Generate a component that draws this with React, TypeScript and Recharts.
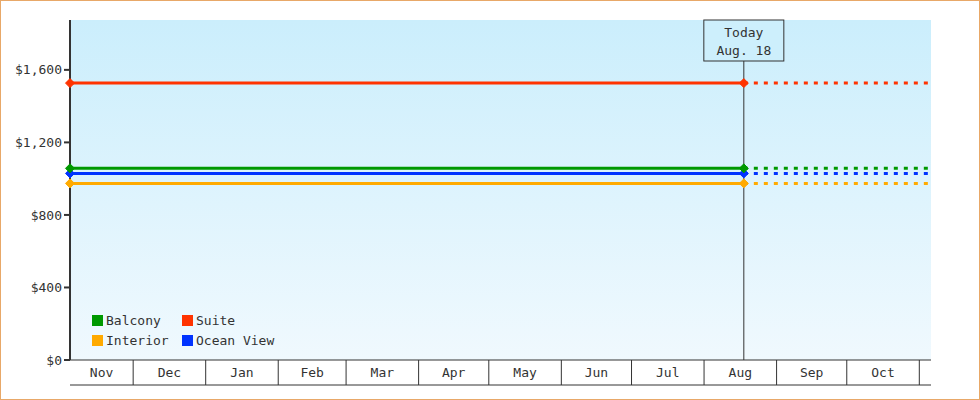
import React from 'react';
import { LineChart, Line, XAxis, YAxis, CartesianGrid, ReferenceLine, Legend } from 'recharts';

// month labels shown under the plot, in order
const monthLabels = ['Nov', 'Dec', 'Jan', 'Feb', 'Mar', 'Apr', 'May', 'Jun', 'Jul', 'Aug', 'Sep', 'Oct'];
// first day of each month shown (plus the month after the last one)
const monthStarts = [
  '2023-11-01', '2023-12-01', '2024-01-01', '2024-02-01', '2024-03-01', '2024-04-01',
  '2024-05-01', '2024-06-01', '2024-07-01', '2024-08-01', '2024-09-01', '2024-10-01', '2024-11-01',
];
const rangeStart = '2023-11-04';
const rangeEnd = '2024-11-06';
const todayDate = '2024-08-18';

// price points: range start, today, range end (projection)
const pointDates = [rangeStart, todayDate, rangeEnd];
const balcony = [1057, 1057, 1057];
const suite = [1527, 1527, 1527];
const interior = [974, 974, 974];
const oceanView = [1029, 1029, 1029];

const yTicks = [0, 400, 800, 1200, 1600];
const yMax = 1875;

const series = [
  { key: 'interior', name: 'Interior', color: '#ffaa00', values: interior },
  { key: 'oceanView', name: 'Ocean View', color: '#0033ff', values: oceanView },
  { key: 'balcony', name: 'Balcony', color: '#009900', values: balcony },
  { key: 'suite', name: 'Suite', color: '#ff3300', values: suite },
];
const legendOrder = ['balcony', 'suite', 'interior', 'oceanView'];

const FONT = '"DejaVu Sans Mono", monospace';
const INK = '#333';

const toDay = (s: string) => {
  const [y, m, d] = s.split('-').map(Number);
  return Date.UTC(y, m - 1, d) / 86400000;
};

const startDay = toDay(rangeStart);
const endDay = toDay(rangeEnd);
const todayDay = toDay(todayDate);
const todayIndex = pointDates.indexOf(todayDate);

const boundaryTicks = monthStarts.slice(1).map(toDay);
const labelTicks = monthLabels.map((_, i) => {
  const a = Math.max(toDay(monthStarts[i]), startDay);
  const b = Math.min(toDay(monthStarts[i + 1]), endDay);
  return (a + b) / 2;
});
const labelByTick = new Map(labelTicks.map((t, i) => [t, monthLabels[i]]));
const xTicks = [...boundaryTicks, ...labelTicks].sort((a, b) => a - b);

const rows = pointDates.map((d, i) => {
  const row: Record<string, number | null> = { day: toDay(d) };
  series.forEach((s) => {
    row[s.key] = i <= todayIndex ? s.values[i] : null;
    row[s.key + 'Ahead'] = i >= todayIndex ? s.values[i] : null;
  });
  return row;
});

const MonthTick = (props: any) => {
  const { x, y, payload } = props;
  const label = labelByTick.get(payload.value);
  if (label) {
    return (
      <text x={x} y={y + 17} textAnchor="middle" fill={INK} fontSize={13} fontFamily={FONT}>
        {label}
      </text>
    );
  }
  return <line x1={x} x2={x} y1={y} y2={y + 25} stroke={INK} strokeWidth={1} />;
};

const Diamond = (props: any) => {
  const { cx, cy, stroke, index } = props;
  if (cx == null || cy == null) return <g key={index} />;
  const r = 4.5;
  return (
    <polygon
      key={index}
      points={`${cx},${cy - r} ${cx + r},${cy} ${cx},${cy + r} ${cx - r},${cy}`}
      fill={stroke}
      stroke={stroke}
      strokeWidth={1}
    />
  );
};

const TodayLabel = (props: any) => {
  const { viewBox } = props;
  const x = viewBox.x;
  const y = viewBox.y;
  return (
    <g>
      <rect x={x - 40} y={y} width={80} height={41} fill="#cdeffc" stroke={INK} strokeWidth={1} />
      <text x={x} y={y + 17} textAnchor="middle" fill={INK} fontSize={13} fontFamily={FONT}>
        Today
      </text>
      <text x={x} y={y + 35} textAnchor="middle" fill={INK} fontSize={13} fontFamily={FONT}>
        Aug. 18
      </text>
    </g>
  );
};

const LegendBox = () => (
  <div
    style={{
      display: 'grid',
      gridTemplateColumns: '90px 110px',
      rowGap: 3,
      fontFamily: FONT,
      fontSize: 13,
      color: INK,
    }}
  >
    {legendOrder.map((k) => {
      const s = series.find((it) => it.key === k)!;
      return (
        <div key={k} style={{ display: 'flex', alignItems: 'center', height: 17 }}>
          <span style={{ width: 11, height: 11, background: s.color, marginRight: 3, display: 'inline-block' }} />
          <span>{s.name}</span>
        </div>
      );
    })}
  </div>
);

export default function App() {
  return (
    <div style={{ position: 'absolute', left: 0, top: 0, width: 980, height: 400, background: '#fff', fontFamily: FONT }}>
      <LineChart width={980} height={400} data={rows} margin={{ top: 20, right: 49, left: 0, bottom: 14 }}>
        <defs>
          <linearGradient id="plotBg" x1="0" y1="0" x2="0" y2="1">
            <stop offset="0%" stopColor="#cbeefc" />
            <stop offset="100%" stopColor="#f0f9fe" />
          </linearGradient>
        </defs>
        <CartesianGrid horizontal={false} vertical={false} fill="url(#plotBg)" stroke="none" />
        <XAxis
          dataKey="day"
          type="number"
          domain={[startDay, endDay]}
          ticks={xTicks}
          interval={0}
          height={25}
          tickSize={0}
          tickMargin={0}
          tickLine={false}
          axisLine={{ stroke: INK, strokeWidth: 1 }}
          tick={<MonthTick />}
        />
        <XAxis
          xAxisId="frame"
          dataKey="day"
          type="number"
          domain={[startDay, endDay]}
          height={1}
          tick={false}
          tickLine={false}
          axisLine={{ stroke: INK, strokeWidth: 1 }}
        />
        <YAxis
          type="number"
          domain={[0, yMax]}
          ticks={yTicks}
          width={70}
          tickSize={6}
          tickMargin={2}
          axisLine={{ stroke: INK, strokeWidth: 2 }}
          tickLine={{ stroke: INK, strokeWidth: 2 }}
          tick={{ fill: INK, fontSize: 13, fontFamily: FONT }}
          tickFormatter={(v: number) => '$' + v.toLocaleString('en-US')}
        />
        <ReferenceLine x={todayDay} stroke={INK} strokeWidth={1} label={<TodayLabel />} />
        {series.map((s) => (
          <Line
            key={s.key + 'Ahead'}
            dataKey={s.key + 'Ahead'}
            stroke={s.color}
            strokeWidth={3}
            strokeDasharray="4 6"
            dot={false}
            activeDot={false}
            legendType="none"
            isAnimationActive={false}
          />
        ))}
        {series.map((s) => (
          <Line
            key={s.key}
            dataKey={s.key}
            name={s.name}
            stroke={s.color}
            strokeWidth={3}
            dot={Diamond}
            activeDot={false}
            isAnimationActive={false}
          />
        ))}
        <Legend
          layout="horizontal"
          verticalAlign="middle"
          align="center"
          content={<LegendBox />}
          wrapperStyle={{ left: 92, top: 312, width: 210 }}
        />
      </LineChart>
      <div
        style={{
          position: 'absolute',
          inset: 0,
          border: '1px solid #e8a868',
          boxSizing: 'border-box',
          pointerEvents: 'none',
        }}
      />
    </div>
  );
}
